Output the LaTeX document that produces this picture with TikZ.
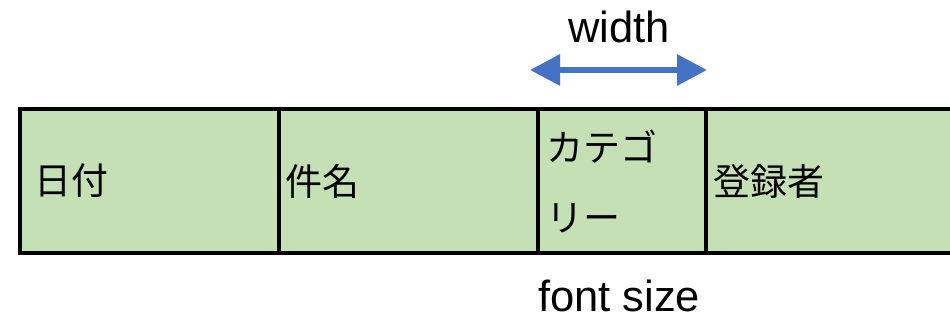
\documentclass[tikz,border=0pt]{standalone}
\usepackage{fontspec}
\setmainfont{Liberation Sans}
\newfontfamily\jpfont{Noto Sans CJK JP}
\usetikzlibrary{arrows.meta}
\definecolor{cellgreen}{HTML}{C5E0B4}
\definecolor{arrowblue}{HTML}{4472C4}
\tikzset{
  cell/.style={draw=black, line width=4pt, fill=cellgreen, minimum height=144pt, inner sep=0pt, anchor=west},
  jplabel/.style={font=\jpfont\fontsize{37}{70}\selectfont, anchor=west, inner sep=0pt, align=left},
  enlabel/.style={font=\fontsize{43.5}{50}\selectfont, anchor=base, inner sep=0pt}
}
\begin{document}
\begin{tikzpicture}[x=1pt,y=1pt]
\clip (0,0) rectangle (950,320);
\fill[white] (0,0) rectangle (950,320);
\node[cell, minimum width=259pt] (c1) at (18,139) {};
\node[cell, minimum width=258.5pt] (c2) at (277,139) {};
\node[cell, minimum width=168.2pt] (c3) at (535.5,139) {};
\node[cell, minimum width=270pt] (c4) at (703.7,139) {};
\node[jplabel] (t1) at ([xshift=16pt]c1.west) {日付};
\node[jplabel] (t2) at ([xshift=8pt]c2.west) {件名};
\node[jplabel] (t3) at ([xshift=10.5pt]c3.west) {カテゴ\\リー};
\node[jplabel] (t4) at ([xshift=9.5pt]c4.west) {登録者};
\node[enlabel] (w) at (619,277) {width};
\node[enlabel] (fs) at (619,8) {font size};
\coordinate (al) at (530,250);
\coordinate (ar) at (707,250);
\draw[arrowblue, line width=6pt, {Triangle[length=30pt,width=30pt]}-{Triangle[length=30pt,width=30pt]}] (al) -- (ar);
\end{tikzpicture}
\end{document}
